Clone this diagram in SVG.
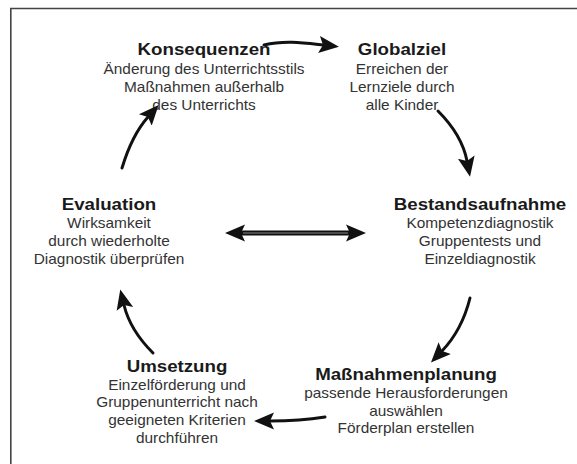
<svg xmlns="http://www.w3.org/2000/svg" width="577" height="464" viewBox="0 0 577 464">
<style>
text{font-family:"Liberation Sans",Arial,sans-serif;text-anchor:middle}
.h{font-size:17px;font-weight:bold;fill:#1a1a1a}
.b{font-size:14px;fill:#333}
.c{fill:none;stroke:#111;stroke-width:3;stroke-linecap:round}
.frame{fill:none;stroke:#444;stroke-width:1.6}
</style>
<defs>
<marker id="ah" markerUnits="userSpaceOnUse" markerWidth="24" markerHeight="20" viewBox="0 -10 24 20" refX="4" refY="0" orient="auto">
<path d="M0,-8.5 L20,0 L0,8.5 L4,0 Z" fill="#111"/>
</marker>
<marker id="ah2" markerUnits="userSpaceOnUse" markerWidth="24" markerHeight="20" viewBox="0 -10 24 20" refX="4" refY="0" orient="auto-start-reverse">
<path d="M0,-8.5 L20,0 L0,8.5 L4,0 Z" fill="#111"/>
</marker>
</defs>
<rect width="577" height="464" fill="#fff"/>
<path class="frame" d="M577,8.5 H10.8 V464"/>

<g id="konsequenzen" transform="translate(204 0) scale(1.1 1)">
<text class="h" x="0" y="55">Konsequenzen</text>
<text class="b" x="0" y="74">Änderung des Unterrichtsstils</text>
<text class="b" x="0" y="92">Maßnahmen außerhalb</text>
<text class="b" x="0" y="110">des Unterrichts</text>
</g>
<g id="globalziel" transform="translate(402 0) scale(1.1 1)">
<text class="h" x="0" y="55">Globalziel</text>
<text class="b" x="0" y="74">Erreichen der</text>
<text class="b" x="0" y="92">Lernziele durch</text>
<text class="b" x="0" y="110">alle Kinder</text>
</g>
<g id="evaluation" transform="translate(109 0) scale(1.1 1)">
<text class="h" x="0" y="210">Evaluation</text>
<text class="b" x="0" y="228">Wirksamkeit</text>
<text class="b" x="0" y="246">durch wiederholte</text>
<text class="b" x="0" y="264">Diagnostik überprüfen</text>
</g>
<g id="bestandsaufnahme" transform="translate(480 0) scale(1.1 1)">
<text class="h" x="0" y="210">Bestandsaufnahme</text>
<text class="b" x="0" y="228">Kompetenzdiagnostik</text>
<text class="b" x="0" y="246">Gruppentests und</text>
<text class="b" x="0" y="264">Einzeldiagnostik</text>
</g>
<g id="umsetzung" transform="translate(177 0) scale(1.1 1)">
<text class="h" x="0" y="372">Umsetzung</text>
<text class="b" x="0" y="390">Einzelförderung und</text>
<text class="b" x="0" y="407">Gruppenunterricht nach</text>
<text class="b" x="0" y="425">geeigneten Kriterien</text>
<text class="b" x="0" y="443">durchführen</text>
</g>
<g id="massnahmenplanung" transform="translate(406 0) scale(1.1 1)">
<text class="h" x="0" y="380">Maßnahmenplanung</text>
<text class="b" x="0" y="398">passende Herausforderungen</text>
<text class="b" x="0" y="416">auswählen</text>
<text class="b" x="0" y="433">Förderplan erstellen</text>
</g>

<g id="connectors">
<path class="c" d="M264,45 C285,40 305,43 323,45" marker-end="url(#ah)"/>
<path class="c" d="M438,111 Q462,135 467,161" marker-end="url(#ah)"/>
<path class="c" d="M470,298 Q462,330 442,351" marker-end="url(#ah)"/>
<path class="c" d="M325,417 Q300,421 270,421" marker-end="url(#ah)"/>
<path class="c" d="M153,353 Q130,330 124,305" marker-end="url(#ah)"/>
<path class="c" d="M122,168 Q132,135 148,117" marker-end="url(#ah)"/>
<path d="M241,233 H350" fill="none" stroke="#111" stroke-width="5" marker-start="url(#ah2)" marker-end="url(#ah2)"/>
<path d="M243,233 H348" fill="none" stroke="#888" stroke-width="1.2"/>
</g>
</svg>
